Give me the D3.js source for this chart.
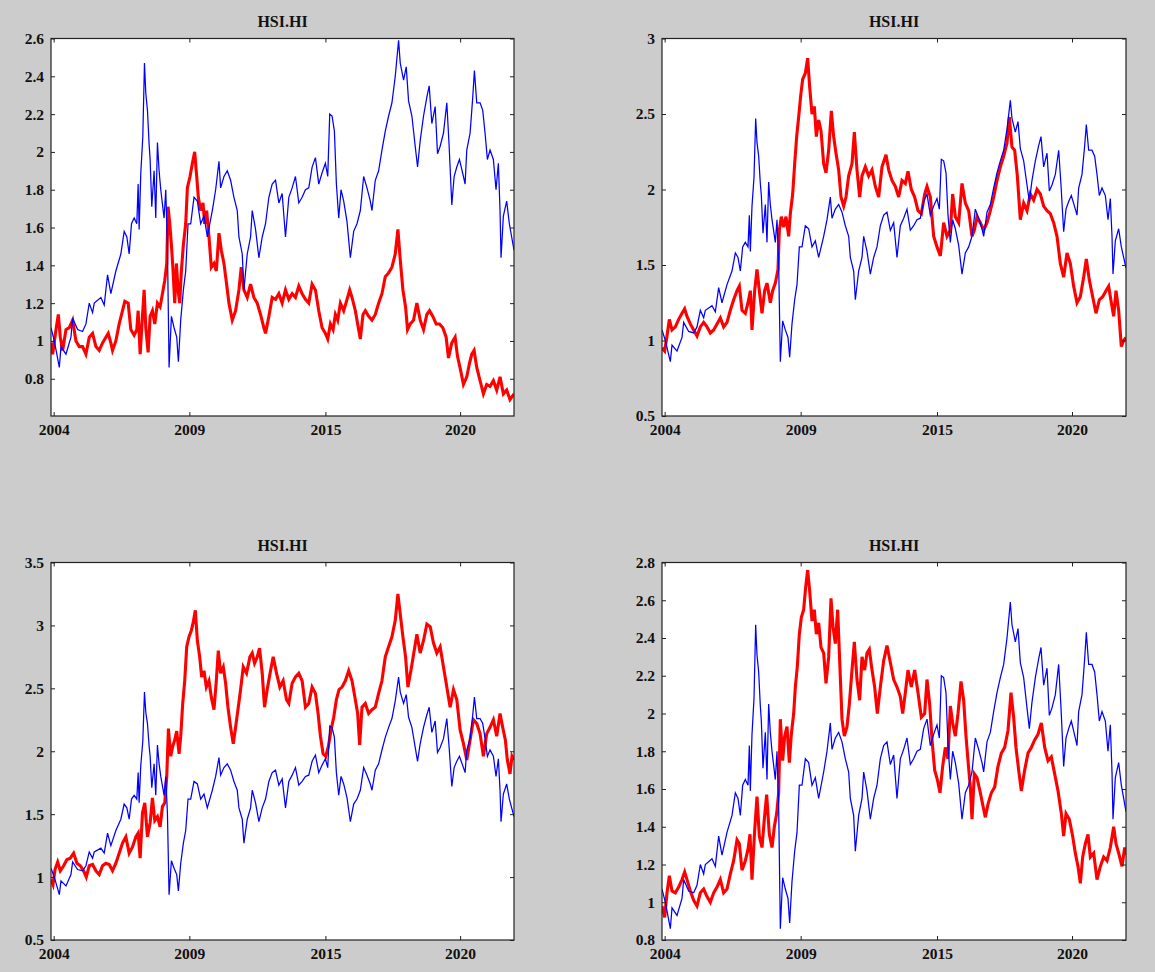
<!DOCTYPE html>
<html>
<head>
<meta charset="utf-8">
<script src="https://cdn.jsdelivr.net/npm/d3@7"></script>
<style>
  html, body { margin: 0; padding: 0; background: #cccccc; }
  svg { display: block; }
  .tick text { font-family: "Liberation Serif", "DejaVu Serif", serif; font-weight: bold; font-size: 15.5px; fill: #111; }
  .title { font-family: "Liberation Serif", "DejaVu Serif", serif; font-weight: bold; font-size: 16px; fill: #111; }
</style>
</head>
<body>
<script>
// ---- Data (trading-day index, value) ----
const blueSeries = [[0,1.07],[30,1.00],[75,0.86],[90,0.97],[135,0.93],[180,1.02],[195,1.12],[240,1.06],[285,1.05],[315,1.09],[345,1.20],[375,1.15],[390,1.20],[450,1.23],[480,1.19],[510,1.35],[540,1.25],[585,1.37],[630,1.46],[660,1.58],[684,1.55],[705,1.46],[726,1.62],[750,1.65],[774,1.62],[786,1.83],[795,1.59],[810,1.89],[828,2.08],[843,2.47],[855,2.31],[870,2.22],[885,2.04],[894,1.96],[909,1.71],[930,1.90],[945,1.65],[960,2.05],[975,1.90],[990,1.80],[1020,1.65],[1035,1.80],[1050,1.51],[1065,0.86],[1086,1.13],[1110,1.07],[1134,1.02],[1149,0.89],[1170,1.11],[1194,1.27],[1215,1.37],[1236,1.62],[1260,1.62],[1290,1.76],[1320,1.74],[1350,1.62],[1380,1.66],[1410,1.55],[1455,1.69],[1485,1.80],[1515,1.95],[1530,1.81],[1560,1.87],[1590,1.90],[1620,1.85],[1650,1.76],[1680,1.69],[1695,1.55],[1725,1.46],[1740,1.27],[1770,1.46],[1800,1.55],[1815,1.69],[1845,1.59],[1875,1.44],[1905,1.55],[1935,1.62],[1965,1.76],[1995,1.83],[2025,1.85],[2055,1.73],[2085,1.78],[2115,1.55],[2145,1.76],[2175,1.81],[2205,1.87],[2235,1.73],[2265,1.76],[2295,1.80],[2325,1.81],[2355,1.92],[2385,1.97],[2415,1.83],[2445,1.89],[2475,1.94],[2496,1.87],[2514,2.20],[2535,2.19],[2556,2.11],[2574,1.83],[2595,1.65],[2616,1.80],[2640,1.74],[2670,1.63],[2700,1.44],[2730,1.58],[2760,1.62],[2790,1.69],[2820,1.87],[2850,1.81],[2880,1.74],[2895,1.69],[2925,1.85],[2955,1.90],[2985,2.01],[3015,2.11],[3045,2.19],[3075,2.26],[3105,2.40],[3135,2.59],[3150,2.47],[3180,2.38],[3204,2.45],[3225,2.27],[3255,2.19],[3285,2.03],[3306,1.92],[3330,2.06],[3360,2.19],[3390,2.29],[3411,2.35],[3435,2.15],[3465,2.24],[3486,1.99],[3510,2.03],[3540,2.10],[3570,2.26],[3591,2.03],[3615,1.72],[3636,1.87],[3660,1.92],[3684,1.96],[3720,1.87],[3735,1.83],[3750,2.01],[3780,2.10],[3804,2.29],[3819,2.43],[3840,2.26],[3870,2.26],[3894,2.22],[3915,2.10],[3936,1.96],[3960,2.01],[3990,1.96],[4014,1.80],[4035,1.94],[4050,1.69],[4059,1.44],[4080,1.66],[4110,1.74],[4134,1.62],[4155,1.55],[4176,1.48]];

const redSeries1 = [[0,0.99],[15,0.93],[45,1.06],[66,1.14],[84,1.02],[105,0.95],[135,1.06],[165,1.07],[195,1.11],[225,1.00],[255,0.97],[285,0.97],[315,0.93],[345,1.02],[375,1.04],[405,0.97],[435,0.95],[465,0.99],[495,1.02],[516,1.04],[540,0.99],[555,0.95],[585,1.00],[615,1.09],[645,1.16],[666,1.21],[696,1.20],[720,1.06],[750,1.03],[774,1.06],[786,1.16],[804,0.93],[825,1.13],[840,1.27],[855,1.07],[876,0.94],[894,1.13],[915,1.16],[936,1.09],[960,1.20],[984,1.18],[1005,1.25],[1026,1.32],[1044,1.41],[1056,1.71],[1071,1.62],[1086,1.51],[1101,1.37],[1116,1.20],[1131,1.41],[1146,1.27],[1161,1.20],[1176,1.37],[1194,1.51],[1215,1.62],[1230,1.81],[1254,1.87],[1275,1.94],[1296,2.00],[1314,1.87],[1329,1.76],[1350,1.69],[1371,1.73],[1386,1.62],[1404,1.69],[1425,1.55],[1446,1.39],[1470,1.41],[1491,1.37],[1515,1.57],[1536,1.48],[1560,1.41],[1584,1.30],[1605,1.20],[1635,1.11],[1665,1.16],[1695,1.27],[1716,1.39],[1740,1.27],[1770,1.23],[1800,1.30],[1830,1.23],[1860,1.20],[1890,1.14],[1920,1.07],[1935,1.04],[1965,1.13],[1995,1.23],[2025,1.22],[2055,1.25],[2085,1.20],[2115,1.27],[2145,1.22],[2175,1.25],[2205,1.23],[2235,1.29],[2265,1.25],[2295,1.22],[2325,1.20],[2355,1.30],[2385,1.27],[2415,1.16],[2445,1.07],[2475,1.04],[2496,1.01],[2520,1.09],[2544,1.06],[2565,1.14],[2586,1.11],[2610,1.20],[2640,1.16],[2670,1.22],[2694,1.27],[2715,1.23],[2745,1.16],[2775,1.06],[2790,1.01],[2814,1.14],[2835,1.16],[2865,1.13],[2895,1.11],[2925,1.14],[2955,1.20],[2985,1.25],[3015,1.34],[3045,1.36],[3075,1.39],[3105,1.46],[3129,1.59],[3150,1.43],[3174,1.27],[3198,1.18],[3216,1.06],[3240,1.09],[3270,1.11],[3300,1.20],[3330,1.11],[3360,1.06],[3390,1.14],[3414,1.16],[3444,1.13],[3474,1.09],[3504,1.09],[3534,1.07],[3564,1.02],[3585,0.91],[3615,0.99],[3645,1.02],[3666,0.92],[3696,0.84],[3720,0.77],[3750,0.81],[3774,0.88],[3795,0.93],[3816,0.95],[3840,0.86],[3870,0.79],[3900,0.72],[3930,0.77],[3960,0.76],[3990,0.79],[4020,0.74],[4050,0.81],[4080,0.72],[4110,0.74],[4140,0.69],[4176,0.72]];

const redSeries2 = [[0,0.95],[24,0.93],[45,1.03],[66,1.14],[90,1.07],[120,1.09],[150,1.14],[180,1.18],[204,1.21],[225,1.16],[255,1.11],[285,1.07],[315,1.03],[345,1.09],[375,1.12],[405,1.09],[435,1.05],[465,1.07],[495,1.11],[525,1.15],[555,1.09],[585,1.12],[615,1.20],[645,1.27],[675,1.33],[696,1.36],[720,1.20],[750,1.18],[774,1.25],[795,1.33],[810,1.07],[834,1.33],[855,1.47],[876,1.33],[900,1.18],[924,1.33],[945,1.38],[975,1.25],[996,1.33],[1020,1.38],[1044,1.47],[1056,1.73],[1074,1.82],[1095,1.75],[1116,1.82],[1140,1.69],[1155,1.84],[1176,1.97],[1194,2.17],[1212,2.35],[1230,2.48],[1248,2.62],[1266,2.73],[1290,2.77],[1311,2.87],[1329,2.68],[1350,2.50],[1371,2.55],[1389,2.35],[1410,2.46],[1431,2.39],[1455,2.17],[1476,2.11],[1500,2.26],[1524,2.52],[1545,2.35],[1566,2.24],[1590,2.13],[1611,1.95],[1635,1.89],[1656,1.95],[1680,2.09],[1710,2.17],[1731,2.38],[1755,2.13],[1779,1.95],[1800,2.09],[1830,2.15],[1860,2.09],[1890,2.13],[1920,2.02],[1950,1.95],[1980,2.15],[2016,2.23],[2040,2.13],[2070,2.06],[2100,2.02],[2130,1.95],[2160,2.06],[2190,2.04],[2214,2.12],[2244,2.00],[2274,1.95],[2304,1.86],[2334,1.84],[2364,1.97],[2385,2.02],[2415,1.95],[2445,1.69],[2475,1.62],[2505,1.56],[2535,1.78],[2565,1.69],[2595,1.73],[2616,1.97],[2640,1.82],[2670,1.78],[2700,2.04],[2730,1.91],[2760,1.86],[2790,1.69],[2811,1.73],[2835,1.82],[2865,1.78],[2895,1.73],[2925,1.78],[2955,1.86],[2985,1.95],[3015,2.06],[3045,2.15],[3075,2.22],[3105,2.31],[3126,2.48],[3150,2.28],[3174,2.26],[3198,2.09],[3225,1.80],[3255,1.91],[3285,1.86],[3315,1.97],[3345,1.93],[3375,2.00],[3405,1.97],[3435,1.89],[3465,1.86],[3495,1.84],[3525,1.78],[3555,1.69],[3585,1.51],[3615,1.42],[3645,1.58],[3675,1.51],[3705,1.36],[3735,1.25],[3765,1.29],[3795,1.42],[3819,1.54],[3846,1.40],[3876,1.29],[3906,1.18],[3936,1.27],[3966,1.29],[3996,1.33],[4020,1.36],[4044,1.25],[4065,1.16],[4086,1.33],[4110,1.20],[4134,0.96],[4155,1.00],[4176,1.02]];

const redSeries3 = [[0,0.98],[18,0.94],[36,1.06],[60,1.12],[84,1.05],[114,1.09],[144,1.14],[174,1.15],[204,1.19],[234,1.11],[264,1.09],[294,1.05],[318,1.00],[345,1.09],[375,1.10],[405,1.05],[435,1.02],[465,1.09],[495,1.11],[525,1.10],[555,1.05],[585,1.11],[615,1.19],[645,1.27],[675,1.32],[705,1.19],[735,1.24],[765,1.32],[786,1.35],[804,1.15],[825,1.51],[846,1.59],[870,1.32],[894,1.43],[915,1.63],[936,1.45],[960,1.48],[984,1.40],[1005,1.56],[1026,1.59],[1044,1.80],[1059,2.18],[1080,1.96],[1098,2.04],[1116,2.09],[1134,2.16],[1155,1.98],[1170,2.12],[1188,2.38],[1206,2.56],[1224,2.83],[1245,2.91],[1266,2.96],[1284,3.03],[1302,3.12],[1320,2.88],[1341,2.75],[1359,2.59],[1380,2.64],[1401,2.51],[1425,2.56],[1446,2.43],[1470,2.33],[1491,2.56],[1509,2.80],[1530,2.62],[1554,2.67],[1575,2.54],[1596,2.35],[1620,2.19],[1644,2.06],[1665,2.19],[1689,2.35],[1710,2.49],[1734,2.67],[1764,2.62],[1794,2.75],[1815,2.78],[1836,2.70],[1860,2.75],[1881,2.82],[1905,2.62],[1926,2.35],[1950,2.49],[1980,2.64],[2004,2.75],[2034,2.62],[2064,2.51],[2094,2.56],[2124,2.41],[2145,2.38],[2175,2.54],[2205,2.59],[2235,2.62],[2265,2.56],[2295,2.35],[2325,2.38],[2355,2.51],[2385,2.46],[2409,2.30],[2430,2.12],[2454,1.98],[2478,1.96],[2502,2.04],[2526,2.17],[2550,2.27],[2574,2.41],[2598,2.49],[2625,2.51],[2655,2.56],[2685,2.64],[2715,2.56],[2745,2.41],[2766,2.30],[2784,2.05],[2805,2.35],[2835,2.38],[2865,2.30],[2895,2.33],[2925,2.35],[2955,2.46],[2985,2.56],[3015,2.75],[3045,2.83],[3075,2.91],[3105,3.04],[3129,3.25],[3150,3.09],[3174,2.91],[3198,2.75],[3219,2.51],[3246,2.64],[3276,2.80],[3300,2.93],[3330,2.78],[3360,2.88],[3390,3.01],[3420,2.99],[3450,2.86],[3480,2.78],[3510,2.83],[3540,2.67],[3570,2.51],[3600,2.35],[3630,2.49],[3660,2.41],[3690,2.17],[3720,2.06],[3750,1.93],[3780,2.09],[3810,2.25],[3840,2.22],[3870,2.14],[3900,1.96],[3930,2.14],[3960,2.19],[3990,2.25],[4020,2.12],[4050,2.30],[4074,2.19],[4098,2.09],[4116,1.93],[4140,1.82],[4158,1.96],[4176,1.93]];

const redSeries4 = [[0,0.98],[24,0.92],[45,1.05],[66,1.14],[90,1.06],[120,1.05],[150,1.08],[180,1.12],[204,1.16],[225,1.12],[255,1.06],[285,1.01],[315,0.98],[345,1.05],[375,1.07],[405,1.03],[435,1.00],[465,1.05],[495,1.08],[525,1.12],[555,1.05],[585,1.07],[615,1.15],[645,1.22],[675,1.33],[696,1.31],[720,1.17],[750,1.22],[774,1.28],[792,1.36],[810,1.12],[834,1.38],[855,1.56],[876,1.35],[900,1.29],[921,1.44],[942,1.57],[966,1.36],[990,1.29],[1011,1.40],[1032,1.47],[1050,1.58],[1065,1.97],[1086,1.75],[1104,1.88],[1125,1.93],[1146,1.74],[1164,1.89],[1185,2.00],[1200,2.14],[1218,2.25],[1236,2.42],[1254,2.51],[1275,2.55],[1293,2.67],[1311,2.76],[1329,2.65],[1350,2.49],[1371,2.55],[1389,2.42],[1410,2.48],[1431,2.35],[1455,2.32],[1476,2.16],[1500,2.30],[1521,2.61],[1539,2.46],[1560,2.37],[1581,2.55],[1599,2.28],[1620,1.97],[1641,1.88],[1665,1.93],[1686,2.05],[1710,2.23],[1731,2.38],[1755,2.18],[1779,2.07],[1800,2.30],[1824,2.23],[1845,2.32],[1866,2.34],[1890,2.23],[1914,2.14],[1938,2.00],[1965,2.14],[1995,2.28],[2025,2.36],[2055,2.27],[2085,2.18],[2115,2.14],[2145,2.09],[2166,2.00],[2190,2.11],[2214,2.23],[2244,2.14],[2274,2.23],[2304,2.11],[2334,1.98],[2364,2.00],[2385,2.18],[2409,2.05],[2430,1.86],[2454,1.70],[2478,1.65],[2502,1.58],[2526,1.72],[2550,1.82],[2574,1.76],[2595,2.04],[2616,1.95],[2640,1.88],[2664,2.00],[2691,2.17],[2715,2.07],[2736,1.88],[2754,1.75],[2775,1.61],[2790,1.44],[2811,1.68],[2835,1.66],[2865,1.58],[2889,1.51],[2910,1.45],[2934,1.52],[2964,1.58],[2994,1.61],[3024,1.72],[3054,1.79],[3084,1.82],[3114,1.91],[3141,2.11],[3165,1.98],[3186,1.82],[3210,1.70],[3234,1.59],[3264,1.70],[3294,1.79],[3324,1.82],[3354,1.86],[3384,1.89],[3414,1.95],[3444,1.82],[3474,1.75],[3504,1.77],[3534,1.68],[3564,1.59],[3594,1.47],[3615,1.35],[3636,1.47],[3666,1.44],[3696,1.35],[3720,1.26],[3744,1.19],[3765,1.10],[3786,1.24],[3810,1.31],[3834,1.36],[3855,1.24],[3885,1.26],[3915,1.12],[3945,1.19],[3975,1.24],[4005,1.22],[4035,1.29],[4065,1.40],[4086,1.31],[4110,1.26],[4140,1.19],[4164,1.29],[4176,1.25]];

const xTickDays = [24, 1248, 2475, 3690];
const xTickLabels = ["2004", "2009", "2015", "2020"];
const yTicks1 = [0.8, 1, 1.2, 1.4, 1.6, 1.8, 2, 2.2, 2.4, 2.6];
const yTicks2 = [0.5, 1, 1.5, 2, 2.5, 3];
const yTicks3 = [0.5, 1, 1.5, 2, 2.5, 3, 3.5];
const yTicks4 = [0.8, 1, 1.2, 1.4, 1.6, 1.8, 2, 2.2, 2.4, 2.6, 2.8];
const titles = ["HSI.HI", "HSI.HI", "HSI.HI", "HSI.HI"];

// ---- Layout ----
const W = 1155, H = 972;
const panels = [
  { x0: 51,  x1: 514,  y0: 38.5, y1: 416, red: redSeries1, ydom: [0.603, 2.6], yt: yTicks1 },
  { x0: 662, x1: 1126, y0: 38.5, y1: 416, red: redSeries2, ydom: [0.5, 3],     yt: yTicks2 },
  { x0: 51,  x1: 514,  y0: 562.5, y1: 940, red: redSeries3, ydom: [0.5, 3.5],   yt: yTicks3 },
  { x0: 662, x1: 1126, y0: 562.5, y1: 940, red: redSeries4, ydom: [0.8, 2.8],   yt: yTicks4 }
];

const svg = d3.select("body").append("svg").attr("width", W).attr("height", H);
svg.append("rect").attr("width", W).attr("height", H).attr("fill", "#cccccc");

const fmt = v => String(+v.toFixed(2));

panels.forEach((p, i) => {
  const x = d3.scaleLinear().domain([0, 4176]).range([p.x0, p.x1]);
  const y = d3.scaleLinear().domain(p.ydom).range([p.y1, p.y0]);
  const g = svg.append("g");

  g.append("rect").attr("x", p.x0).attr("y", p.y0)
    .attr("width", p.x1 - p.x0).attr("height", p.y1 - p.y0).attr("fill", "#ffffff");

  const clipId = "clip" + i;
  g.append("clipPath").attr("id", clipId).append("rect")
    .attr("x", p.x0).attr("y", p.y0).attr("width", p.x1 - p.x0).attr("height", p.y1 - p.y0);

  const line = d3.line().x(d => x(d[0])).y(d => y(d[1]));
  const lines = g.append("g").attr("clip-path", `url(#${clipId})`);
  lines.append("path").datum(p.red).attr("d", line)
    .attr("fill", "none").attr("stroke", "#ff0000").attr("stroke-width", 3.1).attr("stroke-linejoin", "miter");
  lines.append("path").datum(blueSeries).attr("d", line)
    .attr("fill", "none").attr("stroke", "#0000ff").attr("stroke-width", 1.25).attr("stroke-linejoin", "miter");

  // axes (inward ticks on all four sides)
  const axL = d3.axisLeft(y).tickValues(p.yt).tickFormat(fmt).tickSizeInner(-4).tickSizeOuter(0).tickPadding(7);
  const axR = d3.axisRight(y).tickValues(p.yt).tickFormat("").tickSizeInner(-4).tickSizeOuter(0);
  const axB = d3.axisBottom(x).tickValues(xTickDays).tickFormat((d, k) => xTickLabels[k]).tickSizeInner(-4).tickSizeOuter(0).tickPadding(8);
  const axT = d3.axisTop(x).tickValues(xTickDays).tickFormat("").tickSizeInner(-4).tickSizeOuter(0);

  [[axL, `translate(${p.x0},0)`], [axR, `translate(${p.x1},0)`],
   [axB, `translate(0,${p.y1})`], [axT, `translate(0,${p.y0})`]].forEach(([ax, tr]) => {
    const a = g.append("g").attr("transform", tr).call(ax);
    a.select(".domain").remove();
    a.selectAll(".tick line").attr("stroke", "#222").attr("stroke-width", 1);
  });

  g.append("rect").attr("x", p.x0).attr("y", p.y0)
    .attr("width", p.x1 - p.x0).attr("height", p.y1 - p.y0)
    .attr("fill", "none").attr("stroke", "#222").attr("stroke-width", 1.2);

  g.append("text").attr("class", "title")
    .attr("x", (p.x0 + p.x1) / 2).attr("y", p.y0 - 12)
    .attr("text-anchor", "middle").text(titles[i]);
});
</script>
</body>
</html>
